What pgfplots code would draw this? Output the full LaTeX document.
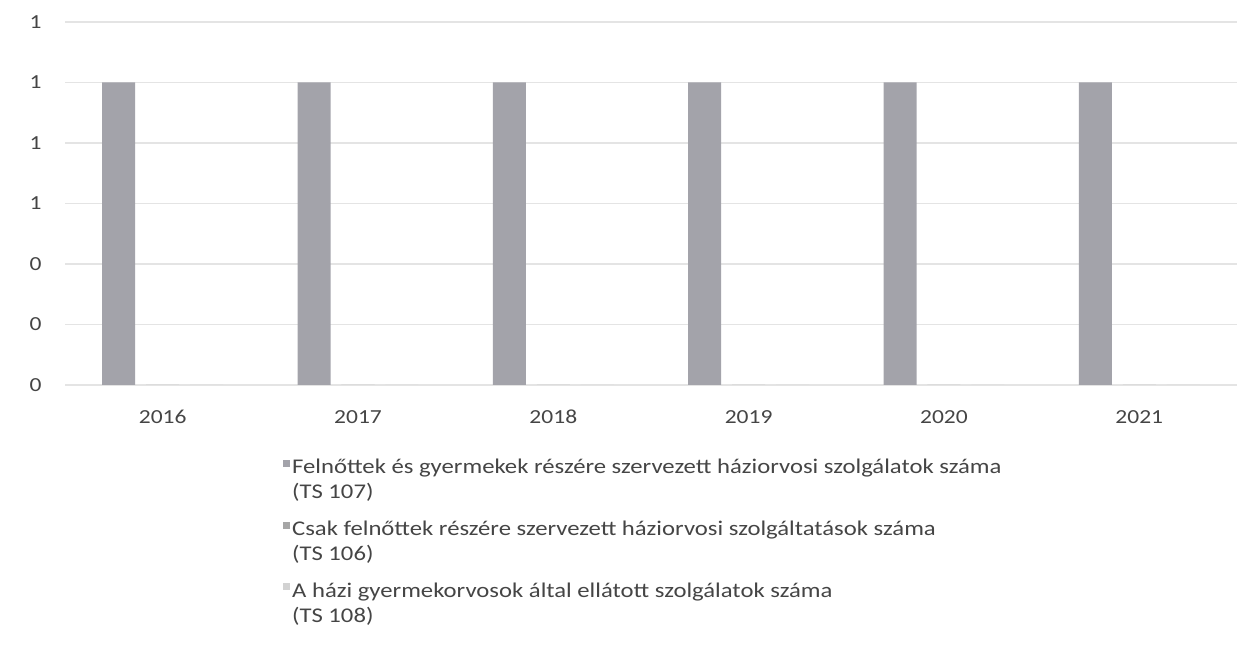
\documentclass[border=0pt]{standalone}
\usepackage{pgfplots}
\pgfplotsset{compat=1.18}
\usepackage{fontspec}
\setmainfont{Carlito}[FakeStretch=1.18]
\definecolor{sone}{HTML}{A3A3AA}
\definecolor{stwo}{HTML}{A6A6A6}
\definecolor{sthree}{HTML}{D2D2D2}
\definecolor{gridc}{HTML}{E4E4E4}
\definecolor{txt}{HTML}{454545}
\newcommand{\entry}[2]{\begin{tabular}[t]{@{}l@{}}#1\\#2\end{tabular}}
\begin{document}
\begin{tikzpicture}
\useasboundingbox (0,0) rectangle (1242bp,648bp);
\begin{axis}[
    at={(65bp,263bp)}, anchor=south west,
    scale only axis, width=1172bp, height=363bp,
    ybar, bar width=0.169,
    legend image code/.code={\fill[#1] (-2bp,-1bp) rectangle (5bp,6bp);},
    xmin=-0.5, xmax=5.5, ymin=0, ymax=1.2,
    xtick={0,1,2,3,4,5},
    xticklabels={2016,2017,2018,2019,2020,2021},
    ytick={0,0.2,0.4,0.6,0.8,1,1.2},
    yticklabels={0,0,0,1,1,1,1}, % Excel rounds the labels to whole numbers
    ymajorgrids, grid style={color=gridc, line width=1.5bp},
    axis line style={draw=none}, major tick length=0pt,
    tick label style={font=\fontsize{20}{24}\selectfont, text=txt},
    xticklabel style={anchor=north, text height=13bp, text depth=0bp, yshift=-22bp},
    yticklabel style={xshift=-20bp},
    legend style={at={(rel axis cs:0.186,-0.19)}, anchor=north west,
        draw=none, fill=none, font=\fontsize{21}{25}\selectfont,
        text=txt, row sep=39bp, inner sep=0pt},
    legend cell align=left,
]
\addplot[fill=sone, draw=none, bar shift=-0.225] coordinates {
    (0,1) (1,1) (2,1) (3,1) (4,1) (5,1)};
\addplot[fill=stwo, draw=none, bar shift=0] coordinates {
    (0,0) (1,0) (2,0) (3,0) (4,0) (5,0)};
\addplot[fill=sthree, draw=none, bar shift=0.225] coordinates {
    (0,0) (1,0) (2,0) (3,0) (4,0) (5,0)};
\legend{\entry{Felnőttek és gyermekek részére szervezett háziorvosi szolgálatok száma}{(TS 107)},
    \entry{Csak felnőttek részére szervezett háziorvosi szolgáltatások száma}{(TS 106)},
    \entry{A házi gyermekorvosok által ellátott szolgálatok száma}{(TS 108)}}
\end{axis}
\end{tikzpicture}
\end{document}
